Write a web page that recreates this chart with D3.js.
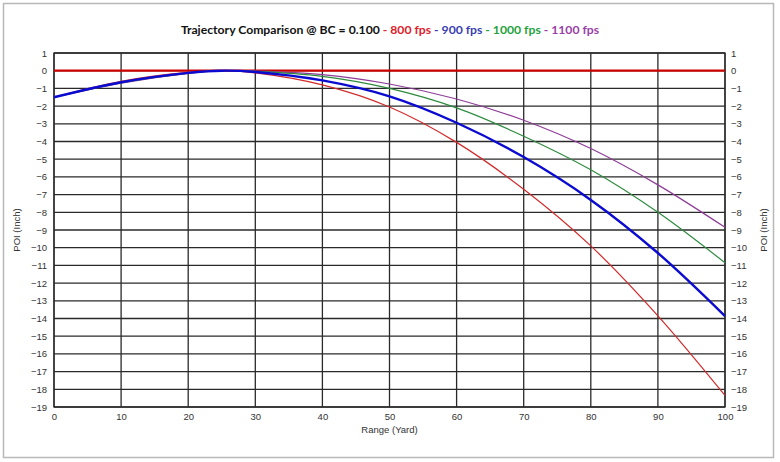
<!DOCTYPE html>
<html><head><meta charset="utf-8">
<script src="https://cdn.jsdelivr.net/npm/d3@7"></script>
<style>body{margin:0;background:#fff}</style>
</head><body>
<svg id="c" width="780" height="462"></svg>
<script>
const ranges = [0, 10, 20, 25, 30, 40, 50, 60, 70, 80, 90, 100];
const fps800  = [-1.5, -0.6, -0.1, 0.0, -0.12, -0.8, -2.05, -4.05, -6.7, -9.9, -13.85, -18.35];
const fps900  = [-1.5, -0.65, -0.12, 0.0, -0.07, -0.55, -1.45, -2.94, -4.88, -7.3, -10.3, -13.86];
const fps1000 = [-1.5, -0.68, -0.14, 0.0, -0.04, -0.32, -1.0, -2.1, -3.7, -5.6, -8.0, -10.85];
const fps1100 = [-1.5, -0.7, -0.15, 0.0, -0.02, -0.22, -0.75, -1.6, -2.8, -4.4, -6.45, -8.85];
const seriesNames = ["800 fps", "900 fps", "1000 fps", "1100 fps"];
const xTicks = [0,10,20,30,40,50,60,70,80,90,100];
const yTicks = d3.range(1, -20, -1);

const svg = d3.select("#c");
const L = 54, R = 725, T = 53, B = 407;
const x = d3.scaleLinear().domain([0, 100]).range([L, R]);
const y = d3.scaleLinear().domain([1, -19]).range([T, B]);

// outer frame
svg.append("rect").attr("x", 3.5).attr("y", 3.5).attr("width", 770).attr("height", 454)
  .attr("fill", "#fff").attr("stroke", "#b8b8b8").attr("stroke-width", 1.5);

// grid
svg.append("g").selectAll("line").data(yTicks).join("line")
  .attr("x1", L).attr("x2", R).attr("y1", d => y(d)).attr("y2", d => y(d))
  .attr("stroke", "#2a2a2a").attr("stroke-width", 1.3);
svg.append("g").selectAll("line").data(xTicks).join("line")
  .attr("y1", T).attr("y2", B).attr("x1", d => x(d)).attr("x2", d => x(d))
  .attr("stroke", "#2a2a2a").attr("stroke-width", 1.3);
svg.append("rect").attr("x", L).attr("y", T).attr("width", R - L).attr("height", B - T)
  .attr("fill", "none").attr("stroke", "#2a2a2a").attr("stroke-width", 1.3);

// axes
const axL = d3.axisLeft(y).tickValues(yTicks).tickSize(0).tickPadding(7).tickFormat(d3.format("d"));
const axR = d3.axisRight(y).tickValues(yTicks).tickSize(0).tickPadding(6).tickFormat(d3.format("d"));
const axB = d3.axisBottom(x).tickValues(xTicks).tickSize(0).tickPadding(6);
function styleAxis(g){ g.select(".domain").remove(); g.selectAll("text").attr("font-family","Liberation Sans, Arial, sans-serif").attr("font-size", 9.5).attr("fill", "#333"); }
svg.append("g").attr("transform", `translate(${L},0)`).call(axL).call(styleAxis);
svg.append("g").attr("transform", `translate(${R},0)`).call(axR).call(styleAxis);
svg.append("g").attr("transform", `translate(0,${B})`).call(axB).call(styleAxis);

// zero line
svg.append("line").attr("x1", x(0)).attr("x2", x(100)).attr("y1", y(0)).attr("y2", y(0))
  .attr("stroke", "#cc0000").attr("stroke-width", 2.2);

const line = d3.line().x((d, i) => x(ranges[i])).y(d => y(d)).curve(d3.curveCatmullRom.alpha(0.5));
const series = [
  {v: fps1100, c: "#8e3c98", w: 1.2},
  {v: fps1000, c: "#2e8b3e", w: 1.2},
  {v: fps800,  c: "#d22a2a", w: 1.2},
  {v: fps900,  c: "#0a0ad0", w: 2.4}
];
svg.append("g").selectAll("path").data(series).join("path")
  .attr("d", d => line(d.v)).attr("fill", "none")
  .attr("stroke", d => d.c).attr("stroke-width", d => d.w);

// title
const t = svg.append("text").attr("x", 390).attr("y", 34).attr("text-anchor", "middle")
  .attr("font-family", "Lato, 'Open Sans', sans-serif").attr("font-weight", "bold").attr("font-size", 12.2);
t.append("tspan").attr("fill", "#111").text("Trajectory Comparison @ BC = 0.100");
const tcol = ["#e0202a", "#3a3fb2", "#1fa33c", "#9a3fa6"];
seriesNames.forEach((n, i) => {
  t.append("tspan").attr("fill", tcol[i]).text(" - " + n);
});

// axis titles
function apply(s){ return s.attr("font-family", "Liberation Sans, Arial, sans-serif").attr("font-size", 9.5).attr("fill", "#333"); }
apply(svg.append("text").attr("x", (L + R) / 2).attr("y", 433).attr("text-anchor", "middle")).text("Range (Yard)");
apply(svg.append("text").attr("transform", `translate(20,${(T + B) / 2}) rotate(-90)`).attr("text-anchor", "middle")).text("POI (Inch)");
apply(svg.append("text").attr("transform", `translate(767,${(T + B) / 2}) rotate(-90)`).attr("text-anchor", "middle")).text("POI (Inch)");
</script>
</body></html>
